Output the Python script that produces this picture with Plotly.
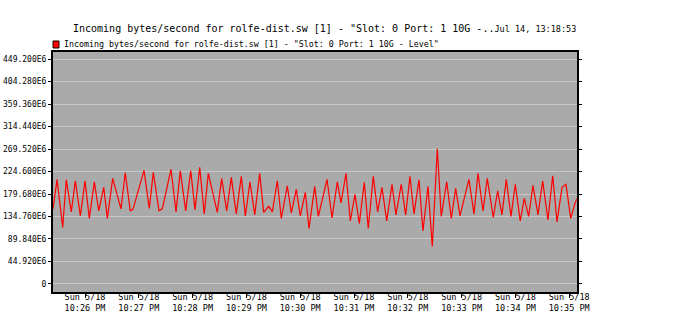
import plotly.graph_objects as go
from datetime import datetime, timedelta

# ---- data ----
# seconds after 22:25:00 on Sun 5/18
seconds = [24.3, 28.8, 35.1, 39.1, 44.7, 49.2, 54.8, 60.0, 64.8, 70.4, 75.3, 80.9, 84.9, 90.9,
           100.1, 104.9, 110.5, 113.5, 125.8, 131.7, 136.2, 142.5, 146.2, 155.9, 161.5, 166.3,
           172.3, 177.9, 182.7, 187.9, 193.0, 197.5, 207.5, 212.4, 218.0, 223.2, 228.7, 234.3,
           238.8, 244.0, 249.3, 254.8, 259.3, 264.9, 268.9, 274.5, 278.9, 285.6, 290.1, 295.6,
           300.1, 305.7, 309.8, 316.2, 320.2, 329.9, 335.5, 341.4, 345.5, 351.1, 355.9, 361.1,
           365.9, 371.5, 375.9, 381.5, 386.4, 391.2, 396.5, 402.4, 406.8, 412.7, 417.6, 422.4,
           426.9, 432.5, 436.9, 442.5, 447.3, 452.9, 457.3, 463.4, 468.5, 473.4, 478.2, 488.2,
           493.8, 498.3, 503.9, 508.6, 515.3, 520.2, 525.0, 529.8, 535.1, 539.9, 545.4, 549.9,
           554.8, 559.6, 565.2, 570.4, 576.3, 581.6, 586.4, 592.0, 596.4, 601.7, 606.8, 608.7]
# incoming bytes/second, in units of 1E6
values_e6 = [150, 209, 113, 208, 144, 206, 136, 206, 131, 204, 146, 193, 131, 211,
             150, 222, 146, 149, 227, 151, 223, 146, 150, 229, 144, 226,
             146, 226, 148, 233, 140, 221, 143, 211, 146, 213, 140, 215,
             136, 204, 138, 221, 143, 155, 144, 206, 131, 196, 142, 189,
             136, 183, 111, 195, 135, 209, 132, 204, 162, 221, 126, 179,
             121, 203, 111, 215, 144, 193, 126, 199, 138, 199, 138, 215,
             140, 208, 106, 195, 75, 270, 135, 204, 131, 191, 136, 209,
             140, 221, 146, 211, 133, 186, 138, 209, 135, 199, 126, 171,
             135, 197, 138, 206, 128, 216, 124, 193, 199, 131, 163, 170]

y_tick_vals = [0, 44.92, 89.84, 134.76, 179.68, 224.6, 269.52, 314.44, 359.36, 404.28, 449.2]
y_tick_text = ["0", "44.920E6", "89.840E6", "134.760E6", "179.680E6", "224.600E6",
               "269.520E6", "314.440E6", "359.360E6", "404.280E6", "449.200E6"]
x_tick_minutes = ["22:26", "22:27", "22:28", "22:29", "22:30", "22:31", "22:32", "22:33", "22:34", "22:35"]
x_tick_text = ["Sun 5/18<br>10:26 PM", "Sun 5/18<br>10:27 PM", "Sun 5/18<br>10:28 PM",
               "Sun 5/18<br>10:29 PM", "Sun 5/18<br>10:30 PM", "Sun 5/18<br>10:31 PM",
               "Sun 5/18<br>10:32 PM", "Sun 5/18<br>10:33 PM", "Sun 5/18<br>10:34 PM",
               "Sun 5/18<br>10:35 PM"]
series_name = 'Incoming bytes/second for rolfe-dist.sw [1] - "Slot: 0 Port: 1 10G - Level"'
title_main = 'Incoming bytes/second for rolfe-dist.sw [1] - "Slot: 0 Port: 1 10G -..'
title_date = 'Jul 14, 13:18:53'

base = datetime(2025, 5, 18, 22, 25, 0)
times = [base + timedelta(seconds=s) for s in seconds]
tick_vals = [datetime(2025, 5, 18, int(m[:2]), int(m[3:])) for m in x_tick_minutes]

W, H = 686, 333
L, R, T, B = 53, 109, 52, 41
FONT = "DejaVu Sans Mono"

fig = go.Figure()
fig.add_trace(go.Scatter(x=times, y=values_e6, mode="lines", name=series_name,
                         line=dict(color="#ff0000", width=1.2), showlegend=False))

pw = W - L - R
ph = H - T - B
# legend swatch + text
fig.add_shape(type="rect", xref="paper", yref="paper",
              x0=0, x1=6 / pw, y0=(H - B - 48) / ph, y1=(H - B - 41) / ph,
              fillcolor="#ff0000", line=dict(color="#000000", width=1))
fig.add_annotation(text=series_name, xref="paper", yref="paper",
                   x=9 / pw, y=(H - B - 44) / ph, xanchor="left", yanchor="middle",
                   showarrow=False, font=dict(family=FONT, size=8.3, color="#000"))

fig.update_layout(
    width=W, height=H,
    margin=dict(l=L, r=R, t=T, b=B, autoexpand=False),
    paper_bgcolor="#ffffff", plot_bgcolor="#aaaaaa",
    title=dict(text=title_main + '<span style="font-size:8.5px">' + title_date + '</span>',
               xref="container", yref="container", x=73 / W, y=1 - 28 / H,
               xanchor="left", yanchor="middle",
               font=dict(family=FONT, size=10, color="#000")),
    font=dict(family=FONT, size=8.5, color="#000"),
    xaxis=dict(type="date", automargin=False,
               range=[base + timedelta(seconds=24.3), base + timedelta(seconds=608.7)],
               tickvals=tick_vals, ticktext=x_tick_text, tickangle=0,
               ticks="outside", ticklen=4, tickcolor="#000",
               showgrid=False, zeroline=False,
               showline=True, linecolor="#000", linewidth=2, mirror=True,
               ticklabelstandoff=-8,
               tickfont=dict(family=FONT, size=8.5, color="#000")),
    yaxis=dict(range=[-16.0, 463.2], tickvals=y_tick_vals, ticktext=y_tick_text,
               automargin=False,
               ticks="outside", ticklen=3, tickcolor="#000",
               showgrid=True, gridcolor="#c8c8c8", gridwidth=1, zeroline=False,
               showline=True, linecolor="#000", linewidth=2, mirror="ticks",
               ticklabelstandoff=0,
               tickfont=dict(family=FONT, size=8, color="#000")),
)

fig.write_html("out.html")
